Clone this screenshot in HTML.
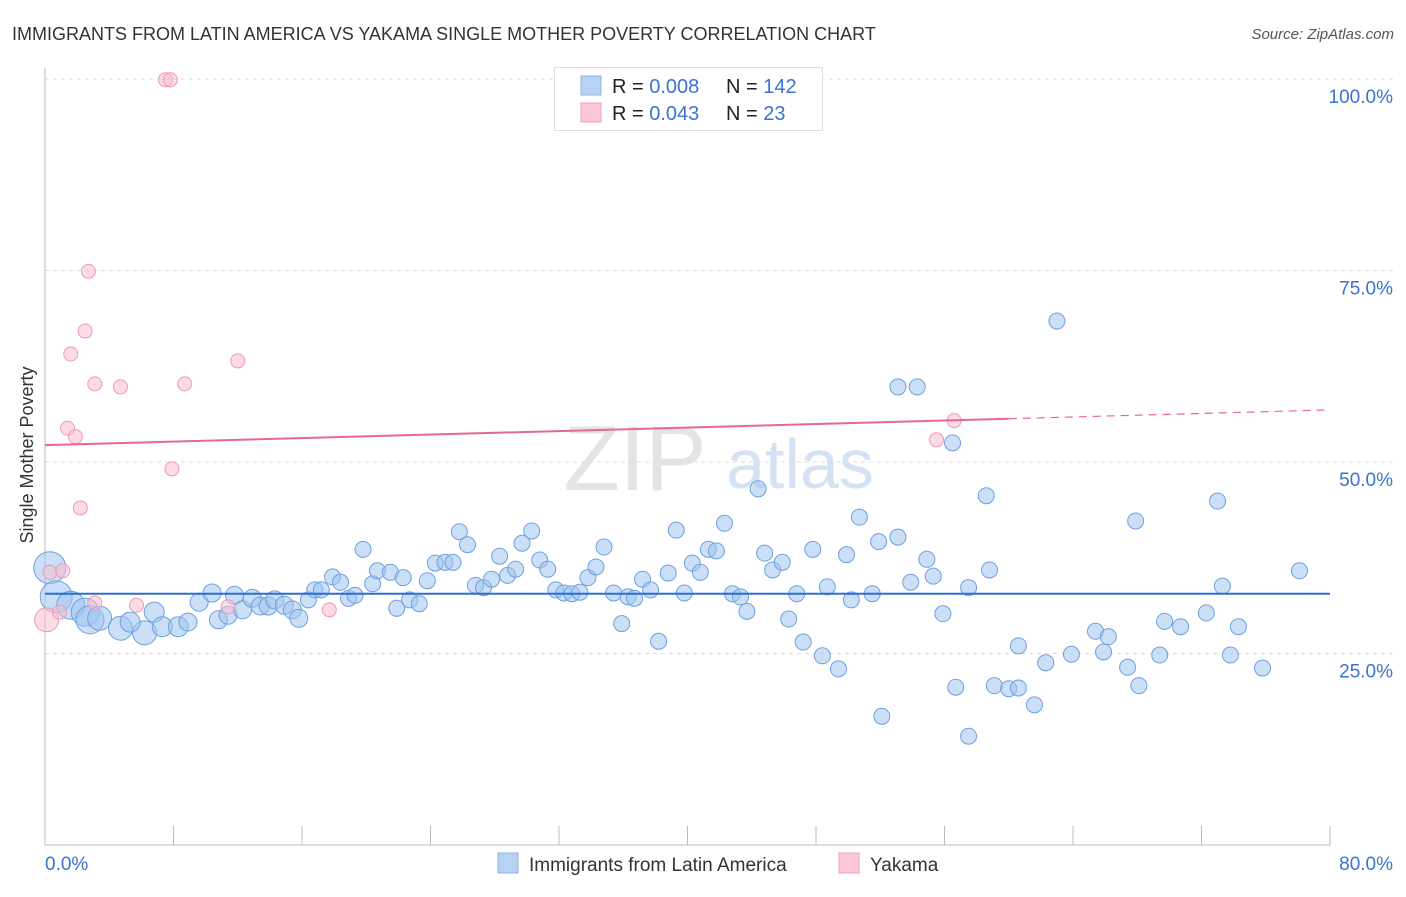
<!DOCTYPE html>
<html><head><meta charset="utf-8"><style>
body{margin:0;background:#fff;font-family:"Liberation Sans",sans-serif;}
svg text{font-family:"Liberation Sans",sans-serif;}
</style></head><body>
<svg id="chart" width="1406" height="892" xmlns="http://www.w3.org/2000/svg">
<text x="12" y="40" font-size="18" fill="#333">IMMIGRANTS FROM LATIN AMERICA VS YAKAMA SINGLE MOTHER POVERTY CORRELATION CHART</text>
<text x="1394" y="39" font-size="15" fill="#555" text-anchor="end" font-style="italic">Source: ZipAtlas.com</text>
<text x="33" y="455" font-size="18" fill="#333" text-anchor="middle" transform="rotate(-90 33 455)">Single Mother Poverty</text>
<g>
<text x="635" y="490" font-size="92" fill="#e4e4e4" font-family="Liberation Serif" text-anchor="middle" font-family="Liberation Serif">ZIP</text>
<text x="800" y="488" font-size="70" fill="#d4e2f4" text-anchor="middle">atlas</text>
</g>
<g id="grid"></g>
<g id="axes"></g>
<g id="marks"></g>
<g>
<rect x="554.5" y="67.5" width="268" height="63" fill="#fff" stroke="#ddd"/>
<rect x="581" y="76" width="20" height="19" fill="#b8d2f4" stroke="#8db4e8"/>
<text x="612" y="93" font-size="20" fill="#222">R = <tspan fill="#3b73d1">0.008</tspan></text>
<text x="726" y="93" font-size="20" fill="#222">N = <tspan fill="#3b73d1">142</tspan></text>
<rect x="581" y="103" width="20" height="19" fill="#fcc8d6" stroke="#f0a0b8"/>
<text x="612" y="120" font-size="20" fill="#222">R = <tspan fill="#3b73d1">0.043</tspan></text>
<text x="726" y="120" font-size="20" fill="#222">N = <tspan fill="#3b73d1">  23</tspan></text>
</g>
<g>
<rect x="498" y="853" width="20" height="20" fill="#b8d2f4" stroke="#8db4e8"/>
<text x="529" y="871" font-size="19" fill="#333">Immigrants from Latin America</text>
<rect x="839" y="853" width="20" height="20" fill="#fcc8d6" stroke="#f0a0b8"/>
<text x="870" y="871" font-size="19" fill="#333">Yakama</text>
</g>
</svg>
<script>
const blueX=[0.3,0.7,1.6,2.5,2.8,3.4,4.7,6.2,5.3,6.8,7.3,8.3,8.9,9.6,10.4,10.8,11.4,11.8,12.3,12.9,13.4,13.9,14.3,14.9,15.4,15.8,16.4,16.8,17.2,17.9,18.4,18.9,19.3,19.8,20.4,20.7,21.5,21.9,22.3,22.7,23.3,23.8,24.3,24.9,25.4,25.8,26.3,26.8,27.3,27.8,28.3,28.8,29.3,29.7,30.3,30.8,31.3,31.8,32.3,32.8,33.3,33.8,34.3,34.8,35.4,35.9,36.3,36.7,37.2,37.7,38.2,38.8,39.3,39.8,40.3,40.8,41.3,41.8,42.3,42.8,43.3,43.7,44.4,44.8,45.3,45.9,46.3,46.8,47.2,47.8,48.4,48.7,49.4,49.9,50.2,50.7,51.5,51.9,52.1,53.1,53.1,53.9,54.3,54.9,55.3,55.9,56.5,56.7,57.5,57.5,58.6,58.8,59.1,60.0,60.6,60.6,61.6,62.3,63.0,63.9,65.4,65.9,66.2,67.4,67.9,68.1,69.4,69.7,70.7,72.3,73.0,73.3,73.8,74.3,75.8,78.1];
const blueY=[36.2,32.4,31.3,30.4,29.4,29.6,28.3,27.7,29.1,30.4,28.5,28.5,29.1,31.7,32.9,29.4,30.0,32.6,30.7,32.2,31.2,31.2,32.0,31.3,30.7,29.6,32.0,33.3,33.3,35.0,34.3,32.2,32.6,38.6,34.1,35.8,35.6,30.9,34.9,32.0,31.5,34.5,36.8,36.9,36.9,40.9,39.2,33.9,33.6,34.7,37.7,35.2,36.0,39.4,41.0,37.2,36.0,33.3,32.9,32.8,33.0,34.9,36.3,38.9,32.9,28.9,32.4,32.2,34.7,33.3,26.6,35.5,41.1,32.9,36.8,35.6,38.6,38.4,42.0,32.8,32.4,30.5,46.5,38.1,35.9,36.9,29.5,32.8,26.5,38.6,24.7,33.7,23.0,37.9,32.0,42.8,32.8,39.6,16.8,40.2,59.8,34.3,59.8,37.3,35.1,30.2,52.5,20.6,33.6,14.2,45.6,35.9,20.8,20.4,20.5,26.0,18.3,23.8,68.4,24.9,27.9,25.2,27.2,23.2,42.3,20.8,24.8,29.2,28.5,30.3,44.9,33.8,24.8,28.5,23.1,35.8];
const blueSize=[16,16,14,14,14,12,12,12,10,10,10,10,9,9,9,9,9,9,9,9,9,9,9,9,9,9];
const pinkX=[0.1,0.3,1.1,0.9,2.7,7.5,7.8,2.5,1.6,3.1,4.7,8.7,12.0,1.4,1.9,7.9,2.2,5.7,11.4,17.7,55.5,56.6,3.1];
const pinkY=[29.4,35.6,35.8,30.4,74.9,99.9,99.9,67.1,64.1,60.2,59.8,60.2,63.2,54.4,53.3,49.1,44.0,31.3,31.1,30.7,52.9,55.4,31.6];
const pinkSize=[12];
const blueTrend=[32.8,32.8];
const pinkTrend=[52.2,56.8];
const yTicks=[25,50,75,100];
const yTickLabels=["25.0%","50.0%","75.0%","100.0%"];
const xTicks=[0,8,16,24,32,40,48,56,64,72,80];
const xEndLabels=["0.0%","80.0%"];

const NS="http://www.w3.org/2000/svg";
const X0=45,X1=1330,Y0=845,Y100=79;
const sx=v=>X0+(X1-X0)*v/80;
const sy=v=>Y0-(Y0-Y100)*v/100;
function mk(tag,attrs,parent){const e=document.createElementNS(NS,tag);for(const k in attrs)e.setAttribute(k,attrs[k]);parent.appendChild(e);return e;}
const grid=document.getElementById('grid'),axes=document.getElementById('axes'),marks=document.getElementById('marks');
yTicks.forEach((t,i)=>{
 const l=mk('line',{x1:X0,x2:1394,y1:sy(t),y2:sy(t),stroke:'#ddd','stroke-dasharray':'4,4'},grid);
 
 
 const tx=mk('text',{x:1393,y:sy(t)+24,'font-size':19,fill:'#3b73d1','text-anchor':'end'},axes);
 tx.textContent=yTickLabels[i];
 
 
});
const ya=mk('line',{x1:X0,x2:X0,y1:68,y2:Y0,stroke:'#bbb'},axes);


const xa=mk('line',{x1:X0,x2:X1,y1:Y0,y2:Y0,stroke:'#bbb'},axes);


xTicks.forEach(t=>{
 const l=mk('line',{x1:sx(t),x2:sx(t),y1:826,y2:Y0,stroke:'#bbb'},axes);
 
 
});
const xl0=mk('text',{x:45,y:870,'font-size':19,fill:'#3b73d1'},axes);xl0.textContent=xEndLabels[0];


const xl1=mk('text',{x:1393,y:870,'font-size':19,fill:'#3b73d1','text-anchor':'end'},axes);xl1.textContent=xEndLabels[1];



blueX.forEach((x,i)=>{
 const c=mk('circle',{cx:sx(x),cy:sy(blueY[i]),r:blueSize[i]||8,fill:'rgba(160,196,240,0.55)',stroke:'#6fa0e0','stroke-width':1},marks);
 
 
});
pinkX.forEach((x,i)=>{
 const c=mk('circle',{cx:sx(x),cy:sy(pinkY[i]),r:pinkSize[i]||7,fill:'rgba(250,190,208,0.55)',stroke:'#ee9ab4','stroke-width':1},marks);
 
 
});
const bt=mk('line',{x1:sx(0),x2:sx(80),y1:sy(blueTrend[0]),y2:sy(blueTrend[1]),stroke:'#2b6fd6','stroke-width':2},marks);


const pAt=x=>pinkTrend[0]+(pinkTrend[1]-pinkTrend[0])*x/80;
const pt=mk('line',{x1:sx(0),x2:sx(60),y1:sy(pAt(0)),y2:sy(pAt(60)),stroke:'#e8688f','stroke-width':2},marks);


const pd=mk('line',{x1:sx(60),x2:sx(80),y1:sy(pAt(60)),y2:sy(pAt(80)),stroke:'#e8688f','stroke-width':1.2,'stroke-dasharray':'8,6'},marks);


</script>
</body></html>
